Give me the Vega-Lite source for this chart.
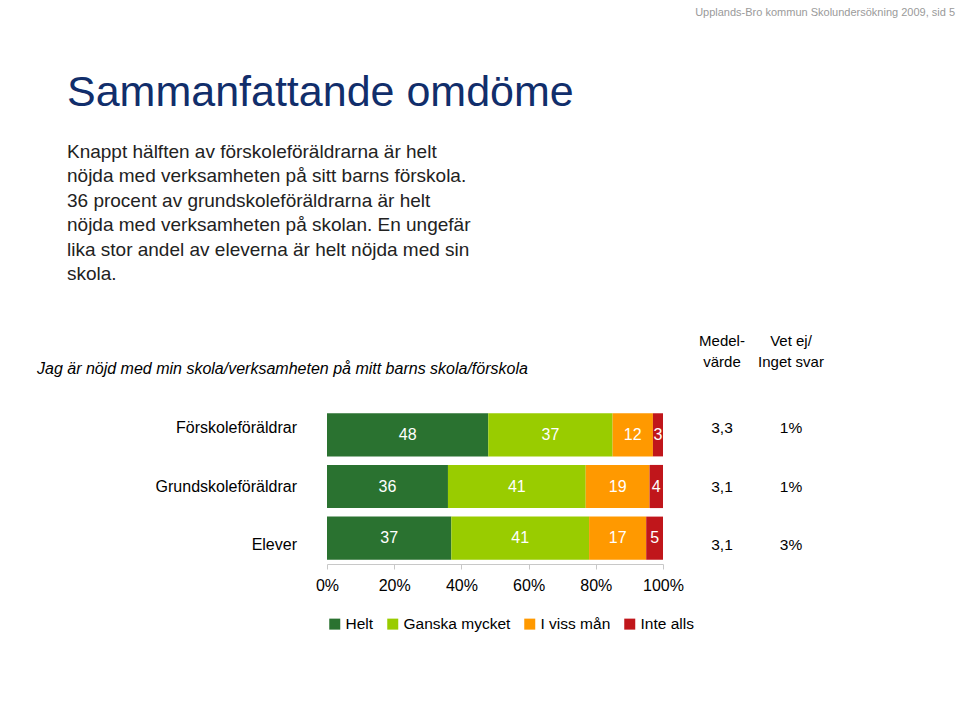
{
  "$schema": "https://vega.github.io/schema/vega-lite/v6.json",
  "background": "white",
  "padding": {"left": 37, "top": 7, "right": 5, "bottom": 5},
  "config": {
    "font": "Liberation Sans",
    "view": {"stroke": null},
    "title": {"font": "Liberation Sans", "fontWeight": "normal"}
  },
  "datasets": {
    "svar": [
      {"grupp": "Förskoleföräldrar", "svar": "Helt", "ordning": 1, "andel": 48},
      {"grupp": "Förskoleföräldrar", "svar": "Ganska mycket", "ordning": 2, "andel": 37},
      {"grupp": "Förskoleföräldrar", "svar": "I viss mån", "ordning": 3, "andel": 12},
      {"grupp": "Förskoleföräldrar", "svar": "Inte alls", "ordning": 4, "andel": 3},
      {"grupp": "Grundskoleföräldrar", "svar": "Helt", "ordning": 1, "andel": 36},
      {"grupp": "Grundskoleföräldrar", "svar": "Ganska mycket", "ordning": 2, "andel": 41},
      {"grupp": "Grundskoleföräldrar", "svar": "I viss mån", "ordning": 3, "andel": 19},
      {"grupp": "Grundskoleföräldrar", "svar": "Inte alls", "ordning": 4, "andel": 4},
      {"grupp": "Elever", "svar": "Helt", "ordning": 1, "andel": 37},
      {"grupp": "Elever", "svar": "Ganska mycket", "ordning": 2, "andel": 41},
      {"grupp": "Elever", "svar": "I viss mån", "ordning": 3, "andel": 17},
      {"grupp": "Elever", "svar": "Inte alls", "ordning": 4, "andel": 5}
    ],
    "sammanfattning": [
      {"grupp": "Förskoleföräldrar", "medel": "3,3", "vetej": "1%"},
      {"grupp": "Grundskoleföräldrar", "medel": "3,1", "vetej": "1%"},
      {"grupp": "Elever", "medel": "3,1", "vetej": "3%"}
    ]
  },
  "title": {
    "text": "Upplands-Bro kommun Skolundersökning 2009,  sid 5",
    "anchor": "end",
    "frame": "group",
    "dx": 628,
    "fontSize": 11,
    "color": "#9a9a9a",
    "offset": 54
  },
  "bounds": "flush",
  "vconcat": [
    {
      "title": {
        "text": "Sammanfattande omdöme",
        "subtitle": [
          "Knappt hälften av förskoleföräldrarna är helt",
          "nöjda med verksamheten på sitt barns förskola.",
          "36 procent av grundskoleföräldrarna är helt",
          "nöjda med verksamheten på skolan. En ungefär",
          "lika stor andel av eleverna är helt nöjda med sin",
          "skola."
        ],
        "anchor": "start",
        "frame": "group",
        "dx": -260,
        "fontSize": 43,
        "color": "#112e6b",
        "subtitleFont": "Liberation Sans",
        "subtitleFontSize": 19,
        "subtitleColor": "#222222",
        "subtitleLineHeight": 24.4,
        "subtitlePadding": 28,
        "offset": 50
      },
      "bounds": "flush",
      "spacing": 39,
      "hconcat": [
        {
          "width": 336,
          "height": 155,
          "title": {
            "text": "Jag är nöjd med min skola/verksamheten på mitt barns skola/förskola",
            "anchor": "start",
            "frame": "group",
            "dx": -290,
            "fontSize": 16,
            "fontStyle": "italic",
            "color": "#000000",
            "offset": 32
          },
          "resolve": {"scale": {"y": "independent"}},
          "layer": [
            {
              "data": {"name": "svar"},
              "mark": {"type": "bar"},
              "encoding": {
                "y": {
                  "field": "grupp", "type": "nominal",
                  "sort": ["Förskoleföräldrar", "Grundskoleföräldrar", "Elever"],
                  "scale": {"paddingInner": 0.165, "paddingOuter": 0.0825},
                  "axis": null
                },
                "x": {
                  "field": "andel", "type": "quantitative", "stack": "zero",
                  "scale": {"domain": [0, 100]},
                  "axis": {
                    "values": [0, 20, 40, 60, 80, 100],
                    "labelExpr": "datum.value + '%'",
                    "title": null,
                    "grid": false,
                    "domainColor": "#c8c8c8",
                    "tickColor": "#c8c8c8",
                    "tickSize": 5,
                    "labelFontSize": 16,
                    "labelColor": "#000000",
                    "labelPadding": 8,
                    "labelFlush": false
                  }
                },
                "color": {
                  "field": "svar", "type": "nominal",
                  "scale": {
                    "domain": ["Helt", "Ganska mycket", "I viss mån", "Inte alls"],
                    "range": ["#2a7230", "#99cc00", "#ff9900", "#c0161b"]
                  },
                  "legend": {
                    "orient": "bottom",
                    "direction": "horizontal",
                    "title": null,
                    "symbolType": "square",
                    "symbolSize": 121,
                    "symbolStrokeWidth": 0,
                    "labelFontSize": 15.5,
                    "labelColor": "#000000",
                    "columnPadding": 11,
                    "labelOffset": 3,
                    "offset": 23
                  }
                },
                "order": {"field": "ordning", "type": "quantitative"}
              }
            },
            {
              "data": {"name": "svar"},
              "mark": {"type": "text", "color": "white", "fontSize": 16},
              "encoding": {
                "y": {
                  "field": "grupp", "type": "nominal",
                  "sort": ["Förskoleföräldrar", "Grundskoleföräldrar", "Elever"],
                  "scale": {"paddingInner": 0.165, "paddingOuter": 0.0825},
                  "axis": null
                },
                "x": {"field": "andel", "type": "quantitative", "stack": "zero", "bandPosition": 0.5},
                "detail": {"field": "svar", "type": "nominal"},
                "order": {"field": "ordning", "type": "quantitative"},
                "text": {"field": "andel", "type": "quantitative"}
              }
            },
            {
              "data": {"name": "sammanfattning"},
              "mark": {"type": "text", "align": "right", "dx": -30, "fontSize": 16, "color": "#000000"},
              "encoding": {
                "y": {
                  "field": "grupp", "type": "nominal",
                  "sort": ["Förskoleföräldrar", "Grundskoleföräldrar", "Elever"],
                  "scale": {"type": "point", "padding": 0.3136},
                  "axis": null
                },
                "x": {"datum": 0, "type": "quantitative"},
                "text": {"field": "grupp"}
              }
            }
          ]
        },
        {
          "width": 40,
          "height": 155,
          "data": {"name": "sammanfattning"},
          "title": {
            "text": ["Medel-", "värde"],
            "anchor": "middle",
            "fontSize": 15,
            "lineHeight": 21,
            "color": "#000000",
            "offset": 39
          },
          "mark": {"type": "text", "fontSize": 15.5, "color": "#000000"},
          "encoding": {
            "y": {
              "field": "grupp", "type": "nominal",
              "sort": ["Förskoleföräldrar", "Grundskoleföräldrar", "Elever"],
              "scale": {"type": "point", "padding": 0.3136},
              "axis": null
            },
            "text": {"field": "medel"}
          }
        },
        {
          "width": 20,
          "height": 155,
          "data": {"name": "sammanfattning"},
          "title": {
            "text": ["Vet ej/", "Inget svar"],
            "anchor": "middle",
            "fontSize": 15,
            "lineHeight": 21,
            "color": "#000000",
            "offset": 39
          },
          "mark": {"type": "text", "fontSize": 15.5, "color": "#000000"},
          "encoding": {
            "y": {
              "field": "grupp", "type": "nominal",
              "sort": ["Förskoleföräldrar", "Grundskoleföräldrar", "Elever"],
              "scale": {"type": "point", "padding": 0.3136},
              "axis": null
            },
            "text": {"field": "vetej"}
          }
        }
      ]
    }
  ]
}
